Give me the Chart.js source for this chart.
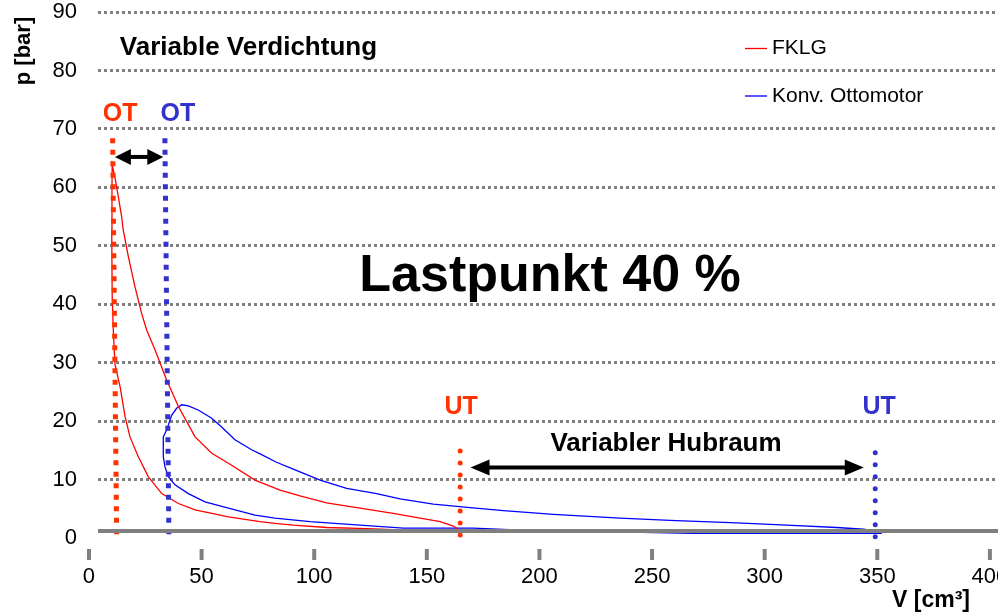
<!DOCTYPE html>
<html>
<head>
<meta charset="utf-8">
<script src="https://cdn.jsdelivr.net/npm/chart.js@4.4.1/dist/chart.umd.min.js"></script>
<style>
    html, body { margin: 0; padding: 0; background: #fff; }
    #wrap { width: 998px; height: 616px; }
</style>
</head>
<body>
<div id="wrap"><canvas id="pvChart" width="998" height="616"></canvas></div>
<script>
// p-V diagram, Lastpunkt 40 % (FKLG vs. conventional Otto engine)

const FONT = "'Liberation Sans', Arial, sans-serif";
const RED = '#ff3300';
const BLUE = '#3333cc';

// axis ticks
const xTicks = [0, 50, 100, 150, 200, 250, 300, 350, 400];
const yTicks = [0, 10, 20, 30, 40, 50, 60, 70, 80, 90];

// FKLG loop: compression UT -> OT, then expansion back to UT
const fklgV = [165, 150, 138, 123.3, 105.5, 90.7, 82.6, 75.9, 61.9, 47.1, 39.7, 32.3, 26.3, 21.9, 18.2, 16, 13.8, 11.5, 10.8, 10.3, 10.1, 10.2, 10.3,
    11.5, 13, 14.5, 15.2, 17.5, 20.4, 23.4, 25.6, 29.3, 34.5, 39.7, 47.1, 54.5, 61.9, 73.7, 84.8, 93.7, 105.5, 120.3, 135.1, 147, 155.9, 161.8, 164, 165];
const fklgP = [1.3, 1.3, 1.4, 1.6, 1.8, 2.2, 2.5, 2.8, 3.6, 4.8, 5.9, 7.6, 10.5, 13.9, 17.3, 20.8, 25.9, 29.8, 35.6, 41.3, 52.7, 60, 63.8,
    61.8, 58.4, 55, 52.7, 48.1, 43, 38.4, 35.6, 32.2, 27, 22.5, 17.3, 14.5, 12.8, 9.9, 8.2, 7.2, 6, 5.1, 4.2, 3.4, 2.8, 2.05, 1.5, 1.3];

// Konv. Ottomotor loop
const ottoV = [352, 300, 268, 240, 200, 170.6, 139.6, 120.3, 98.1, 82.6, 73.7, 61.9, 51.5, 44.1, 38.2, 35.2, 33.7, 33, 33,
    34.5, 36.7, 38.9, 41.2, 44.1, 48.5, 54.5, 58.9, 64.8, 72.2, 76, 83, 90.7, 102.6, 114.4, 127.7, 138.1, 152.9, 169.2, 184, 206.2, 235.8, 258, 287.6, 309.8, 332, 343.8, 349, 352];
const ottoP = [0.8, 0.8, 0.8, 1.0, 1.2, 1.7, 1.7, 2.2, 2.8, 3.4, 3.9, 5.1, 6.2, 7.6, 9.1, 10.5, 12.2, 13.9, 17.3,
    18.5, 21, 22.2, 22.8, 22.6, 21.9, 20.5, 19, 16.8, 15.1, 14.4, 13, 11.8, 9.9, 8.5, 7.6, 6.7, 5.8, 5.2, 4.7, 4.05, 3.4, 3, 2.6, 2.2, 1.8, 1.5, 1.2, 0.8];

// ambient pressure line
const ambientV = [4, 403.6];
const ambientP = [1.2, 1.2];

// dead centre markers (OT lines are slightly slanted in the original)
const otFklgV = [10.5, 12.3];
const otOttoV = [33.7, 35.5];
const otP = [68.4, -0.4];
const utFklgV = [164.8, 164.8];
const utFklgP = [14.9, 0.5];
const utOttoV = [349.1, 349.1];
const utOttoP = [14.6, 0.2];

function toPoints(xs, ys) {
    return xs.map((x, i) => ({ x: x, y: ys[i] }));
}

function drawArrow(ctx, x1, x2, y, head, half) {
    ctx.beginPath();
    ctx.moveTo(x1 + head - 1, y);
    ctx.lineTo(x2 - head + 1, y);
    ctx.lineWidth = 4;
    ctx.strokeStyle = '#000';
    ctx.stroke();
    ctx.beginPath();
    ctx.moveTo(x1, y);
    ctx.lineTo(x1 + head, y - half);
    ctx.lineTo(x1 + head, y + half);
    ctx.closePath();
    ctx.moveTo(x2, y);
    ctx.lineTo(x2 - head, y - half);
    ctx.lineTo(x2 - head, y + half);
    ctx.closePath();
    ctx.fillStyle = '#000';
    ctx.fill();
}

// no automatic room for overflowing tick labels
function noPadding(s) {
    s.paddingLeft = 0;
    s.paddingRight = 0;
    s.paddingTop = 0;
    s.paddingBottom = 0;
}

// texts, arrows, axis ticks, legend
const annotations = {
    id: 'annotations',
    afterDatasetsDraw(chart) {
        const ctx = chart.ctx;
        const xs = chart.scales.x;
        const ys = chart.scales.y;
        const px = v => xs.getPixelForValue(v);
        const py = v => ys.getPixelForValue(v);

        ctx.save();

        // x tick marks, detached below the plot
        ctx.strokeStyle = '#808080';
        ctx.lineWidth = 4;
        xTicks.forEach(v => {
            ctx.beginPath();
            ctx.moveTo(px(v), chart.chartArea.bottom + 11);
            ctx.lineTo(px(v), chart.chartArea.bottom + 22);
            ctx.stroke();
        });

        const text = (str, x, y, size, color, bold, align) => {
            ctx.font = (bold ? 'bold ' : '') + size + 'px ' + FONT;
            ctx.fillStyle = color;
            ctx.textAlign = align || 'center';
            ctx.textBaseline = 'middle';
            ctx.fillText(str, x, y);
        };

        text('Variable Verdichtung', px(70.8), py(83.9), 26, '#000', true);
        text('OT', px(13.8), py(72.5), 25, RED, true);
        text('OT', px(39.5), py(72.5), 25, BLUE, true);
        text('UT', px(165.2), py(22.4), 25, RED, true);
        text('UT', px(350.8), py(22.4), 25, BLUE, true);
        text('Variabler Hubraum', px(256.2), py(16.05), 26, '#000', true);
        text('Lastpunkt 40 %', px(204.7), py(44.7), 52, '#000', true);

        drawArrow(ctx, px(11.5), px(33.0), py(65.2), 16, 8);
        drawArrow(ctx, px(169.4), px(344.0), py(12.06), 19, 8);

        // axis titles
        text('V [cm³]', 931, 601, 23, '#000', true);
        ctx.save();
        ctx.translate(24, 51);
        ctx.rotate(-Math.PI / 2);
        text('p [bar]', 0, 0, 22, '#000', true);
        ctx.restore();

        // legend inside the plot
        chart.data.datasets.filter(ds => ds.inLegend).forEach((ds, i) => {
            const ly = 48.5 + i * 47.5;
            ctx.beginPath();
            ctx.moveTo(745, ly);
            ctx.lineTo(767, ly);
            ctx.lineWidth = 1.3;
            ctx.strokeStyle = ds.borderColor;
            ctx.stroke();
            text(ds.label, 772, ly, 21, '#000', false, 'left');
        });

        ctx.restore();
    }
};

const markerStyle = {
    showLine: true,
    pointRadius: 0,
    borderWidth: 5,
    clip: false
};

new Chart(document.getElementById('pvChart').getContext('2d'), {
    type: 'scatter',
    data: {
        datasets: [
            { label: 'ambient', data: toPoints(ambientV, ambientP), showLine: true, pointRadius: 0, borderColor: '#808080', borderWidth: 4, clip: false },
            { label: 'OT FKLG', data: toPoints(otFklgV, otP), borderColor: RED, borderDash: [5, 6.5], ...markerStyle },
            { label: 'OT Otto', data: toPoints(otOttoV, otP), borderColor: BLUE, borderDash: [5, 6.5], ...markerStyle },
            { label: 'UT FKLG', data: toPoints(utFklgV, utFklgP), borderColor: RED, borderDash: [0, 12], borderCapStyle: 'round', ...markerStyle },
            { label: 'UT Otto', data: toPoints(utOttoV, utOttoP), borderColor: BLUE, borderDash: [0, 12], borderCapStyle: 'round', ...markerStyle },
            { label: 'FKLG', inLegend: true, data: toPoints(fklgV, fklgP), showLine: true, pointRadius: 0, borderColor: '#ff0000', borderWidth: 1.3, tension: 0 },
            { label: 'Konv. Ottomotor', inLegend: true, data: toPoints(ottoV, ottoP), showLine: true, pointRadius: 0, borderColor: '#0000ff', borderWidth: 1.3, tension: 0 }
        ]
    },
    options: {
        responsive: false,
        animation: false,
        devicePixelRatio: 1,
        layout: { autoPadding: false, padding: { top: 12, right: 0, bottom: 0, left: 0 } },
        plugins: {
            legend: { display: false },
            tooltip: { enabled: false }
        },
        scales: {
            x: {
                type: 'linear',
                min: 4,
                max: 403.6,
                afterBuildTicks: s => { s.ticks = xTicks.map(v => ({ value: v })); },
                afterFit: s => { s.height = 78; noPadding(s); },
                border: { display: false },
                grid: { display: false, drawTicks: false },
                ticks: { autoSkip: false, maxRotation: 0, padding: 26, color: '#000', font: { family: FONT, size: 22 } }
            },
            y: {
                min: 0,
                max: 90,
                afterBuildTicks: s => { s.ticks = yTicks.map(v => ({ value: v })); },
                afterFit: s => { s.width = 98; noPadding(s); },
                border: { display: false, dash: [3, 3] },
                grid: {
                    color: c => (c.tick && c.tick.value === 0 ? 'rgba(0,0,0,0)' : '#808080'),
                    lineWidth: 3,
                    drawTicks: false
                },
                ticks: { padding: 21, color: '#000', font: { family: FONT, size: 22 } }
            }
        }
    },
    plugins: [annotations]
});
</script>
</body>
</html>
